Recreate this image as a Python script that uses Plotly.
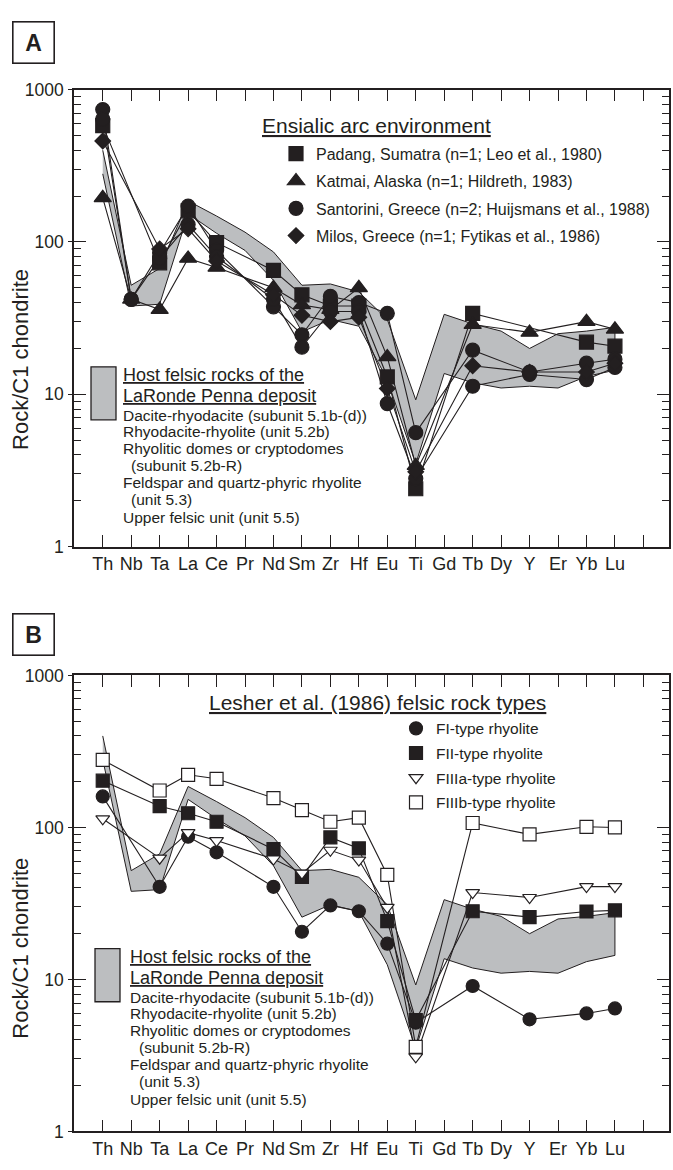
import plotly.graph_objects as go

# ---------------- data ----------------
elements = ["Th", "Nb", "Ta", "La", "Ce", "Pr", "Nd", "Sm", "Zr", "Hf",
            "Eu", "Ti", "Gd", "Tb", "Dy", "Y", "Er", "Yb", "Lu"]

# Host felsic rocks of the LaRonde Penna deposit (field envelope)
field_upper = [400, 52, 67, 186, 148, 116, 86, 52, 53, 47, 31, 9.2, 33.5, 29, 26, 20, 25, 26, 27.5]
field_lower = [280, 38, 39, 153, 114, 88, 56, 25.7, 31, 28, 12.5, 3.5, 13.7, 11.9, 11, 11.3, 11, 13.1, 14.4]

N = None
# Panel A - Ensialic arc environment
padang     = [580, N, 73, 160, 99, N, 65, 45, 38, 38, 13, 2.4, N, 34, N, N, N, 22, 20.7]
katmai     = [195, 42, 36, 78, 68, N, 50, 38.6, 36, 50, 17.6, 3.4, N, 28.7, N, 25.5, N, 30, 26.7]
santorini1 = [740, 42, 85, 172, 88, N, 37.5, 24.6, 44, 40, 34, 5.6, N, 19.5, N, 14, N, 16, 17]
santorini2 = [640, 42, 78, 130, 80, N, 42, 20.4, 35, 35, 8.7, 2.8, N, 11.3, N, 13.5, N, 12.5, 15]
milos      = [460, N, 90, 122, 75, N, 45, 33, 30, 32, 10.9, 3.1, N, 15.4, N, 14, N, 14, 16]

# Panel B - Lesher et al. (1986) felsic rock types
fi_type    = [160, N, 40.7, 87, 68.6, N, 40.7, 20.6, 30.7, 28.1, 17.2, 5.2, N, 9.06, N, 5.47, N, 5.98, 6.45]
fii_type   = [203, N, 138, 124, 109, N, 72, 47.3, 86, 72.8, 24.2, 5.4, N, 28.1, N, 25.7, N, 28, 28.5]
fiiia_type = [114, N, 62.8, 92.5, 82, N, 62, 50, 70.8, 61, 29.8, 3.1, N, 37.3, N, 34.6, N, 40.8, 40.8]
fiiib_type = [278, N, 175, 222, 209, N, 156, 130, 109, 116, 48.7, 3.6, N, 107, N, 90, N, 101, 100]

y_major = [1, 10, 100, 1000]
y_major_text = ["1", "10", "100", "1000"]
y_minor = [m * 10 ** e for e in range(3) for m in range(2, 10)]

legend_a_title = "Ensialic arc environment"
legend_b_title = "Lesher et al. (1986) felsic rock types"
host_lines = [
    ("Host felsic rocks of the", "head"),
    ("LaRonde Penna deposit", "head"),
    ("Dacite-rhyodacite (subunit 5.1b-(d))", "item"),
    ("Rhyodacite-rhyolite (unit 5.2b)", "item"),
    ("Rhyolitic domes or cryptodomes", "item"),
    ("(subunit 5.2b-R)", "indent"),
    ("Feldspar and quartz-phyric rhyolite", "item"),
    ("(unit 5.3)", "indent"),
    ("Upper felsic unit (unit 5.5)", "item"),
]

# ---------------- layout helpers ----------------
W, H = 673, 1170
FONT = "Liberation Sans, Arial, Helvetica, sans-serif"
INK = "#231f20"
GRAY = "#bcbec0"


def px(x):
    return x / W


def py(y):
    return 1 - y / H


xidx = list(range(len(elements)))

fig = go.Figure()


def add_field(xa, ya):
    fig.add_trace(go.Scatter(
        x=xidx + xidx[::-1], y=field_upper + field_lower[::-1],
        xaxis=xa, yaxis=ya, mode="lines", fill="toself",
        fillcolor=GRAY, line=dict(color=INK, width=1),
        showlegend=False, hoverinfo="skip"))


def add_lines(vals, xa, ya):
    fig.add_trace(go.Scatter(
        x=xidx, y=vals, xaxis=xa, yaxis=ya, mode="lines",
        connectgaps=True, line=dict(color=INK, width=1.1),
        showlegend=False, hoverinfo="skip"))


def add_marks(vals, xa, ya, name, symbol, size, fill, legend, show):
    fig.add_trace(go.Scatter(
        x=xidx, y=vals, xaxis=xa, yaxis=ya, mode="markers",
        name=name, legendgroup=name, showlegend=show, legend=legend,
        marker=dict(symbol=symbol, size=size, color=fill,
                    line=dict(color=INK, width=1.2))))


# Panel A
add_field("x", "y")
series_a = [
    (padang, "Padang, Sumatra (n=1; Leo et al., 1980)", "square", 14, True),
    (katmai, "Katmai, Alaska (n=1; Hildreth, 1983)", "triangle-up", 15, True),
    (santorini1, "Santorini, Greece (n=2; Huijsmans et al., 1988)", "circle", 14, True),
    (santorini2, "Santorini, Greece (n=2; Huijsmans et al., 1988)", "circle", 14, False),
    (milos, "Milos, Greece (n=1; Fytikas et al., 1986)", "diamond", 12, True),
]
for vals, *_ in series_a:
    add_lines(vals, "x", "y")
for vals, name, sym, size, show in series_a:
    add_marks(vals, "x", "y", name, sym, size, INK, "legend", show)

# Panel B
add_field("x2", "y2")
series_b = [
    (fi_type, "FI-type rhyolite", "circle", 13, INK),
    (fii_type, "FII-type rhyolite", "square", 13, INK),
    (fiiia_type, "FIIIa-type rhyolite", "triangle-down", 12, "white"),
    (fiiib_type, "FIIIb-type rhyolite", "square", 13, "white"),
]
for vals, *_ in series_b:
    add_lines(vals, "x2", "y2")
for vals, name, sym, size, fill in series_b:
    add_marks(vals, "x2", "y2", name, sym, size, fill, "legend2", True)

# empty helper traces so the outer tick-stub axes get drawn
for xa, ya in (("x", "y3"), ("x2", "y4")):
    fig.add_trace(go.Scatter(x=[None], y=[None], xaxis=xa, yaxis=ya, mode="lines",
                             showlegend=False, hoverinfo="skip"))

# ---------------- axes ----------------
x_dom = [px(74), px(669)]
panels = {
    "A": dict(top=81, bottom=546, x="x", y="y", xk="xaxis", yk="yaxis", stub="yaxis3"),
    "B": dict(top=677, bottom=1141, x="x2", y="y2", xk="xaxis2", yk="yaxis2", stub="yaxis4"),
}
layout_axes = {}
for key, p in panels.items():
    ydom = [py(p["bottom"]), py(p["top"])]
    layout_axes[p["xk"]] = dict(
        domain=x_dom, anchor=p["y"], range=[-1.01, 19.9],
        tickmode="array", tickvals=list(range(len(elements) + 1)),
        ticktext=elements + [""], tickangle=0,
        ticks="inside", ticklen=12, tickwidth=1.3, tickcolor=INK,
        mirror="ticks", showline=True, linewidth=1.6, linecolor=INK,
        showgrid=False, zeroline=False,
        tickfont=dict(family=FONT, size=18, color=INK))
    layout_axes[p["yk"]] = dict(
        domain=ydom, anchor=p["x"], type="log", range=[0, 3],
        tickmode="array", tickvals=y_major, ticktext=y_major_text,
        ticks="inside", ticklen=12, tickwidth=1.3, tickcolor=INK,
        ticklabelstandoff=5,
        minor=dict(tickmode="array", tickvals=y_minor, ticks="inside",
                   ticklen=7, tickwidth=1.1, tickcolor=INK, showgrid=False),
        showline=True, mirror="ticks", linewidth=1.6, linecolor=INK,
        showgrid=False, zeroline=False,
        tickfont=dict(family=FONT, size=17.5, color=INK))
    layout_axes[p["stub"]] = dict(
        overlaying=p["y"], anchor=p["x"], side="left", type="log", range=[0, 3],
        tickmode="array", tickvals=y_major, ticks="outside", ticklen=5,
        tickwidth=1.3, tickcolor=INK, showticklabels=False,
        showline=False, showgrid=False, zeroline=False)

# ---------------- annotations & shapes ----------------
annotations = []
shapes = []


def text(x, y, s, size, anchor="left", **kw):
    annotations.append(dict(
        x=px(x), y=py(y), xref="paper", yref="paper", text=s, showarrow=False,
        xanchor=anchor, yanchor="middle", font=dict(family=FONT, size=size, color=INK), **kw))


# panel letters
for letter, cy in (("A", 33.5), ("B", 635)):
    annotations.append(dict(
        x=px(33.5), y=py(cy), xref="paper", yref="paper", text="<b>%s</b>" % letter,
        showarrow=False, xanchor="center", yanchor="middle", width=40, height=40,
        borderpad=0, bordercolor=INK, borderwidth=1.6,
        font=dict(family=FONT, size=23, color=INK)))

# y titles
for cy in (356, 955):
    annotations.append(dict(
        x=px(21), y=py(cy), xref="paper", yref="paper", text="Rock/C1 chondrite",
        showarrow=False, textangle=-90, xanchor="center", yanchor="middle",
        font=dict(family=FONT, size=22, color=INK)))

# legend titles
text(260, 118, "<u>%s</u>" % legend_a_title, 21)
text(207, 705, "<u>%s</u>" % legend_b_title, 21)

# host rock legend blocks
host_offsets = [8.5, 30, 49.5, 65.5, 83, 100.5, 118, 135.5, 153]
for (rx0, ry0, rx1, ry1, tx, tind) in ((91, 363, 116, 417, 121, 129),
                                        (95, 955, 120, 1009, 128, 137)):
    shapes.append(dict(type="rect", xref="paper", yref="paper",
                       x0=px(rx0), x1=px(rx1), y0=py(ry1), y1=py(ry0),
                       fillcolor=GRAY, line=dict(color=INK, width=1.3)))
    for (s, kind), off in zip(host_lines, host_offsets):
        if kind == "head":
            text(tx, ry0 + off, "<u>%s</u>" % s, 18)
        elif kind == "indent":
            text(tind, ry0 + off, s, 15.5)
        else:
            text(tx, ry0 + off, s, 15.5)

fig.update_layout(
    width=W, height=H, margin=dict(l=0, r=0, t=0, b=0),
    paper_bgcolor="white", plot_bgcolor="white",
    font=dict(family=FONT, color=INK),
    annotations=annotations, shapes=shapes,
    legend=dict(x=px(276), y=py(129), xanchor="left", yanchor="top",
                bgcolor="rgba(0,0,0,0)", borderwidth=0, tracegroupgap=3.5,
                font=dict(family=FONT, size=16, color=INK)),
    legend2=dict(x=px(396), y=py(714), xanchor="left", yanchor="top",
                 bgcolor="rgba(0,0,0,0)", borderwidth=0, tracegroupgap=1.5,
                 font=dict(family=FONT, size=15.5, color=INK)),
    **layout_axes,
)

fig.write_html("out.html")
